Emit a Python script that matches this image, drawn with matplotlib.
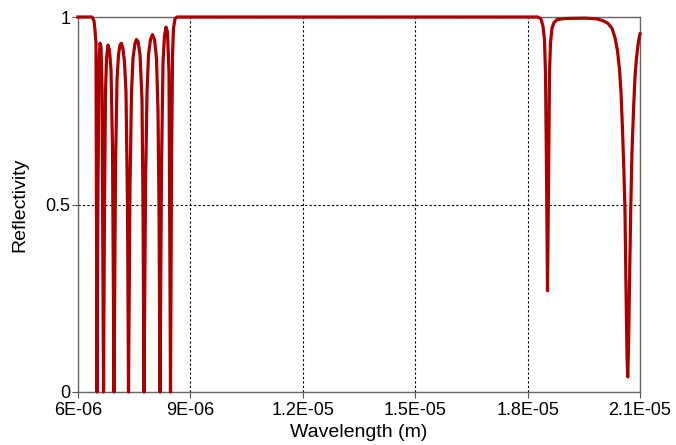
import matplotlib
matplotlib.use("Agg")
import matplotlib.pyplot as plt
import numpy as np

# Wavelength in micrometres and reflectivity
wavelength_um = [
    6.000, 6.374, 6.427, 6.454, 6.480, 6.507, 6.534, 6.560, 6.587, 6.614,
    6.641, 6.681, 6.707, 6.734, 6.761, 6.801, 6.841, 6.881, 6.921, 6.961,
    7.001, 7.041, 7.081, 7.121, 7.161, 7.201, 7.241, 7.281, 7.321, 7.348,
    7.388, 7.428, 7.468, 7.521, 7.561, 7.601, 7.655, 7.708, 7.735, 7.762,
    7.802, 7.842, 7.882, 7.935, 7.988, 8.042, 8.095, 8.135, 8.162, 8.189,
    8.229, 8.269, 8.309, 8.349, 8.389, 8.429, 8.469, 8.496, 8.523, 8.549,
    8.589, 8.642,
    18.277, 18.357, 18.411, 18.451, 18.478, 18.504, 18.531, 18.558, 18.584,
    18.611, 18.651, 18.704, 18.785, 18.998, 19.532, 19.852, 20.012, 20.146,
    20.252, 20.333, 20.399, 20.453, 20.493, 20.533, 20.573, 20.599, 20.626,
    20.653, 20.672, 20.693, 20.719, 20.752, 20.786, 20.826, 20.866, 20.906,
    20.946, 20.986, 21.000,
]
reflectivity = [
    1.000, 1.000, 0.990, 0.965, 0.930, 0.000, 0.550, 0.870, 0.930, 0.920,
    0.820, 0.000, 0.500, 0.800, 0.890, 0.925, 0.910, 0.860, 0.650, 0.000,
    0.600, 0.830, 0.900, 0.925, 0.930, 0.915, 0.880, 0.800, 0.500, 0.000,
    0.550, 0.800, 0.890, 0.930, 0.940, 0.935, 0.900, 0.780, 0.500, 0.000,
    0.550, 0.800, 0.900, 0.940, 0.953, 0.940, 0.890, 0.750, 0.500, 0.000,
    0.600, 0.880, 0.950, 0.973, 0.960, 0.850, 0.000, 0.600, 0.900, 0.970,
    0.995, 1.000,
    1.000, 0.995, 0.975, 0.940, 0.850, 0.600, 0.270, 0.550, 0.850,
    0.930, 0.970, 0.985, 0.993, 0.996, 0.997, 0.995, 0.990, 0.983,
    0.970, 0.945, 0.910, 0.860, 0.800, 0.700, 0.580, 0.485, 0.280,
    0.100, 0.040, 0.120, 0.280, 0.485, 0.640, 0.750, 0.840, 0.890,
    0.925, 0.950, 0.955,
]

x_ticks = [6e-6, 9e-6, 1.2e-5, 1.5e-5, 1.8e-5, 2.1e-5]
x_tick_labels = ["6E-06", "9E-06", "1.2E-05", "1.5E-05", "1.8E-05", "2.1E-05"]
y_ticks = [0, 0.5, 1]
y_tick_labels = ["0", "0.5", "1"]

plt.rcParams['font.family'] = ['Liberation Sans', 'DejaVu Sans']

fig = plt.figure(figsize=(6.76, 4.45), dpi=100)
ax = fig.add_axes([78/676, 1-392/445, (640-78)/676, (392-17)/445])

wl = np.array(wavelength_um) * 1e-6
ax.plot(wl, reflectivity, color='#AA0000', lw=2.3, clip_on=False, zorder=3)

ax.set_xlim(6e-6, 2.1e-5)
ax.set_ylim(0, 1)
ax.set_xticks(x_ticks)
ax.set_xticklabels(x_tick_labels)
ax.set_yticks(y_ticks)
ax.set_yticklabels(y_tick_labels)
ax.tick_params(labelsize=13, length=4, width=0.8, color='#555555')
ax.tick_params(axis='x', pad=3.5)
ax.tick_params(axis='y', pad=1.5)
ax.grid(True, color='black', linestyle=(0, (2, 2)), linewidth=0.8)
for s in ax.spines.values():
    s.set_color('#666666')
    s.set_linewidth(1.0)
ax.set_xlabel("Wavelength (m)", fontsize=14, labelpad=3)
ax.set_ylabel("Reflectivity", fontsize=14, labelpad=12)

fig.savefig("out.png", dpi=100)
